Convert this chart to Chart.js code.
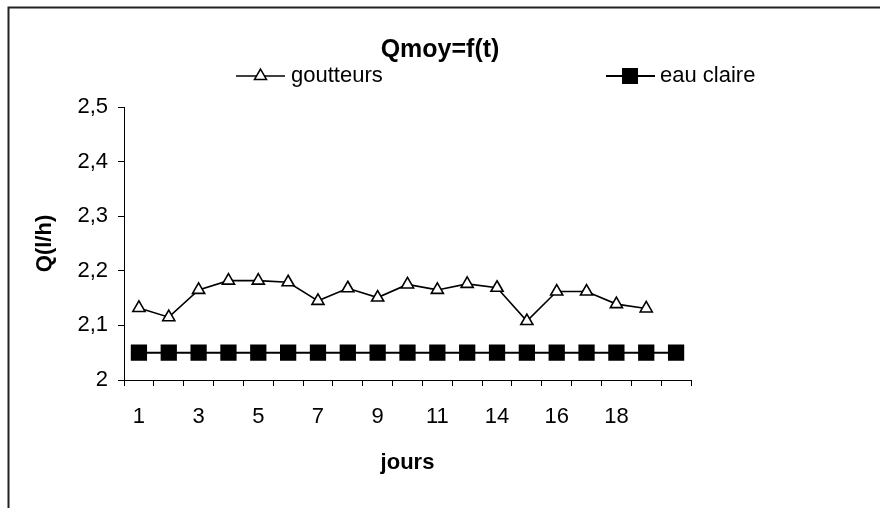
<!DOCTYPE html>
<html>
<head>
<meta charset="utf-8">
<title>Qmoy=f(t)</title>
<script src="https://cdn.jsdelivr.net/npm/chart.js@4/dist/chart.umd.min.js"></script>
<style>
  body { margin: 0; background: #fff; }
  canvas { display: block; }
</style>
</head>
<body>
<canvas id="chart" width="880" height="508"></canvas>
<script>
// jours de mesure (le jour 13 manque)
const jours = [1, 2, 3, 4, 5, 6, 7, 8, 9, 10, 11, 12, 14, 15, 16, 17, 18, 19, 20];

// débit moyen des goutteurs (l/h), pas de mesure le dernier jour
const goutteurs = [2.132, 2.115, 2.165, 2.182, 2.182, 2.179, 2.145, 2.168, 2.151,
  2.175, 2.165, 2.176, 2.169, 2.108, 2.162, 2.162, 2.139, 2.131, null];

// débit de référence en eau claire
const eauClaire = [2.05, 2.05, 2.05, 2.05, 2.05, 2.05, 2.05, 2.05, 2.05, 2.05,
  2.05, 2.05, 2.05, 2.05, 2.05, 2.05, 2.05, 2.05, 2.05];

const yTicks = [2, 2.1, 2.2, 2.3, 2.4, 2.5];

const FONT = "'Liberation Sans', Arial, sans-serif";
Chart.defaults.font.family = FONT;
Chart.defaults.color = '#000';

function triangle(ctx, x, y, r) {
  ctx.beginPath();
  ctx.moveTo(x, y - r);
  ctx.lineTo(x + r * Math.sin(Math.PI / 3), y + r * 0.5);
  ctx.lineTo(x - r * Math.sin(Math.PI / 3), y + r * 0.5);
  ctx.closePath();
  ctx.fillStyle = '#fff';
  ctx.fill();
  ctx.stroke();
}

// cadre + légende façon Excel (trait traversant le marqueur)
const decor = {
  id: 'decor',
  beforeDraw(chart) {
    const ctx = chart.ctx;
    ctx.save();
    ctx.strokeStyle = '#222';
    ctx.lineWidth = 2;
    ctx.beginPath();
    ctx.moveTo(8.5, chart.height);
    ctx.lineTo(8.5, 7.5);
    ctx.lineTo(chart.width, 7.5);
    ctx.stroke();
    ctx.restore();
  },
  afterDraw(chart) {
    const ctx = chart.ctx;
    const y = 76;
    ctx.save();
    ctx.strokeStyle = '#000';
    ctx.lineWidth = 1.5;
    ctx.font = '22px ' + FONT;
    ctx.fillStyle = '#000';
    ctx.textBaseline = 'middle';

    ctx.beginPath();
    ctx.moveTo(236, y);
    ctx.lineTo(285, y);
    ctx.stroke();
    triangle(ctx, 260.5, y, 7);
    ctx.fillStyle = '#000';
    ctx.fillText('goutteurs', 291, y);

    ctx.lineWidth = 2;
    ctx.beginPath();
    ctx.moveTo(606, y);
    ctx.lineTo(655, y);
    ctx.stroke();
    ctx.fillRect(622, y - 8, 16, 16);
    ctx.fillText('eau claire', 660, y);
    ctx.restore();
  }
};

new Chart(document.getElementById('chart'), {
  type: 'line',
  data: {
    labels: jours,
    datasets: [
      {
        label: 'goutteurs',
        data: goutteurs,
        borderColor: '#000',
        borderWidth: 1.6,
        backgroundColor: '#fff',
        pointStyle: 'triangle',
        pointRadius: 7,
        pointBorderWidth: 1.6,
        pointBorderColor: '#000',
        pointBackgroundColor: '#fff',
        tension: 0
      },
      {
        label: 'eau claire',
        data: eauClaire,
        borderColor: '#000',
        borderWidth: 2,
        backgroundColor: '#000',
        pointStyle: 'rect',
        pointRadius: 11.5,
        pointBorderWidth: 0,
        pointBackgroundColor: '#000',
        tension: 0
      }
    ]
  },
  options: {
    responsive: false,
    animation: false,
    devicePixelRatio: 1,
    layout: { padding: 0 },
    plugins: {
      legend: { display: false },
      tooltip: { enabled: false },
      title: {
        display: true,
        text: 'Qmoy=f(t)',
        font: { size: 25, weight: 'bold' },
        color: '#000',
        padding: { top: 35, bottom: 42 }
      }
    },
    scales: {
      x: {
        offset: true,
        grid: {
          offset: true,
          drawOnChartArea: false,
          drawTicks: true,
          tickLength: 6,
          color: '#000'
        },
        border: { display: true, color: '#000', width: 1 },
        ticks: {
          autoSkip: false,
          maxRotation: 0,
          padding: 18,
          font: { size: 22 },
          callback: function (v, i) {
            return (i % 2 === 0 && i < jours.length - 1) ? String(jours[i]) : '';
          }
        },
        title: {
          display: true,
          text: 'jours',
          font: { size: 22, weight: 'bold' },
          padding: { top: 0, bottom: 32 }
        },
        afterFit: function (s) { s.height = 128; }
      },
      y: {
        position: 'left',
        min: 2,
        max: 2.5,
        afterBuildTicks: function (s) {
          s.ticks = yTicks.map(function (v) { return { value: v }; });
        },
        grid: {
          drawOnChartArea: false,
          drawTicks: true,
          tickLength: 6,
          color: '#000'
        },
        border: { display: true, color: '#000', width: 1 },
        ticks: {
          padding: 10,
          font: { size: 22 },
          callback: function (v) {
            return String(Number(v.toFixed(1))).replace('.', ',');
          }
        },
        title: {
          display: true,
          text: 'Q(l/h)',
          font: { size: 22, weight: 'bold' },
          padding: { top: 31.8, bottom: 0 }
        },
        afterFit: function (s) { s.width = 124; }
      },
      // marge droite de la zone de tracé
      y2: {
        position: 'right',
        display: true,
        grid: { display: false },
        border: { display: false },
        ticks: { display: false },
        afterFit: function (s) { s.width = 189; }
      }
    }
  },
  plugins: [decor]
});
</script>
</body>
</html>
